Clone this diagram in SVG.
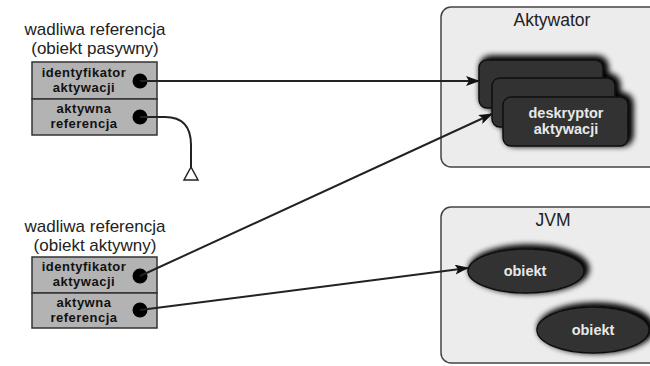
<svg xmlns="http://www.w3.org/2000/svg" width="650" height="366" viewBox="0 0 650 366">
<defs>
<style>
.title{font-family:"Liberation Sans",Arial,sans-serif;font-size:17px;fill:#222;text-anchor:middle}
.cell{fill:#b3b3b3;stroke:#333;stroke-width:1.5}
.ct{font-family:"Liberation Sans",Arial,sans-serif;font-size:13px;font-weight:bold;fill:#111;text-anchor:middle;letter-spacing:0.5px}
.wt{font-family:"Liberation Sans",Arial,sans-serif;font-size:14.5px;font-weight:bold;fill:#e8e8e8;text-anchor:middle}
.cont{fill:#ececec;stroke:#444;stroke-width:1.5}
.dark{fill:#333;stroke:#111;stroke-width:1.5}
.conn{fill:none;stroke:#222;stroke-width:2}
</style>
<filter id="sh" x="-30%" y="-50%" width="160%" height="200%">
<feGaussianBlur in="SourceAlpha" stdDeviation="3.5"/>
<feOffset dx="3" dy="-2" result="b"/>
<feMerge><feMergeNode in="b"/><feMergeNode in="b"/><feMergeNode in="SourceGraphic"/></feMerge>
</filter>
<marker id="ar" markerWidth="14" markerHeight="10" refX="13" refY="5" orient="auto" markerUnits="userSpaceOnUse">
<path d="M0,0 L14,5 L0,10 L3,5 Z" fill="#111"/>
</marker>
</defs>

<g id="aktywator">
<rect class="cont" x="441" y="7" width="220" height="160" rx="10"/>
<text class="title" x="552" y="26" style="font-size:17.5px">Aktywator</text>
<g filter="url(#sh)">
<rect class="dark" x="479" y="60" width="124" height="48" rx="8"/>
<rect class="dark" x="492" y="78" width="123" height="49" rx="8"/>
<rect class="dark" x="503" y="97" width="125" height="49" rx="8"/>
</g>
<text class="wt" x="566" y="118">deskryptor</text>
<text class="wt" x="566" y="134">aktywacji</text>
</g>

<g id="jvm">
<rect class="cont" x="441" y="207" width="220" height="156" rx="10"/>
<text class="title" x="553" y="226" style="font-size:17.5px">JVM</text>
<g filter="url(#sh)">
<ellipse class="dark" cx="526" cy="271" rx="58" ry="22"/>
<ellipse class="dark" cx="593" cy="330" rx="56" ry="23"/>
</g>
<text class="wt" x="525" y="276">obiekt</text>
<text class="wt" x="593" y="335">obiekt</text>
</g>

<g id="ref1">
<text class="title" x="95" y="35">wadliwa referencja</text>
<text class="title" x="95" y="54">(obiekt pasywny)</text>
<rect class="cell" x="32" y="62" width="125" height="37"/>
<rect class="cell" x="32" y="99" width="125" height="36"/>
<text class="ct" x="84" y="77">identyfikator</text>
<text class="ct" x="84" y="92">aktywacji</text>
<text class="ct" x="84" y="113">aktywna</text>
<text class="ct" x="84" y="128">referencja</text>
<circle cx="140" cy="81" r="7.5" fill="#000"/>
<circle cx="140" cy="117" r="7.5" fill="#000"/>
</g>

<g id="ref2">
<text class="title" x="95" y="232">wadliwa referencja</text>
<text class="title" x="95" y="251">(obiekt aktywny)</text>
<rect class="cell" x="32" y="257" width="125" height="36"/>
<rect class="cell" x="32" y="293" width="125" height="35"/>
<text class="ct" x="84" y="271">identyfikator</text>
<text class="ct" x="84" y="286">aktywacji</text>
<text class="ct" x="84" y="307">aktywna</text>
<text class="ct" x="84" y="322">referencja</text>
<circle cx="140" cy="276" r="7.5" fill="#000"/>
<circle cx="140" cy="310" r="7.5" fill="#000"/>
</g>

<g id="connectors">
<path class="conn" d="M140,81 L479,81" marker-end="url(#ar)"/>
<path class="conn" d="M140,117 L165,117 Q191,117 191,145 L191,168"/>
<path d="M191,167 L184,180 L198,180 Z" fill="#fff" stroke="#222" stroke-width="1.5"/>
<path class="conn" d="M140,276 L492,114" marker-end="url(#ar)"/>
<path class="conn" d="M140,310 L468,268" marker-end="url(#ar)"/>
</g>
</svg>
